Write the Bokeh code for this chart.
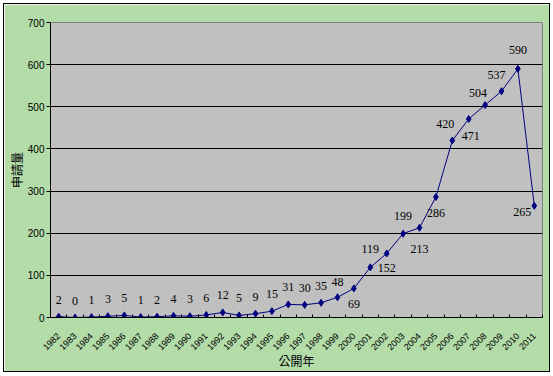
import math
from bokeh.plotting import figure
from bokeh.models import ColumnDataSource, FixedTicker, Range1d, LabelSet
from bokeh.embed import file_html
from bokeh.resources import INLINE

years = [str(y) for y in range(1982, 2012)]
counts = [2, 0, 1, 3, 5, 1, 2, 4, 3, 6, 12, 5, 9, 15, 31, 30, 35, 48, 69,
          119, 152, 199, 213, 286, 420, 471, 504, 537, 590, 265]
y_ticks = [0, 100, 200, 300, 400, 500, 600, 700]
x_title = "公開年"
y_title = "申請量"

# label placement (screen px; dy positive = up)
label_dx = [0] * 24 + [-7, 2, -7, -5, 0, -12]
label_dy = [17] * 17 + [15, -16, 18, -15, 18, -21, -16, 17, -17, 12, 16, 19, -6]

xs = list(range(len(years)))
src = ColumnDataSource(dict(
    x=xs, y=counts, txt=[str(c) for c in counts],
    dx=label_dx, dy=label_dy))

p = figure(width=545, height=367, output_backend="svg", toolbar_location=None,
           x_range=Range1d(-0.5, len(years) - 0.5), y_range=Range1d(0, 700),
           min_border_left=46, min_border_right=7, min_border_top=18,
           min_border_bottom=53)
p.margin = (4, 0, 0, 4)
p.styles = {"outline": "1px solid black"}
p.border_fill_color = "#B3DCA9"
p.background_fill_color = "#C0C0C0"
p.outline_line_color = "#808080"

p.line("x", "y", source=src, line_color="#000080", line_width=1)
p.scatter("x", "y", source=src, marker="diamond", size=7,
          fill_color="#000080", line_color="#000080")
labels = LabelSet(x="x", y="y", text="txt", source=src,
                  x_offset="dx", y_offset="dy",
                  text_align="center", text_baseline="middle",
                  text_font="Liberation Serif", text_font_size="12px",
                  text_color="black")
p.add_layout(labels)

# x axis
xa = p.xaxis[0]
xa.ticker = FixedTicker(ticks=xs, minor_ticks=[i - 0.5 for i in range(len(years) + 1)])
xa.major_label_overrides = {i: y for i, y in enumerate(years)}
xa.major_label_orientation = math.pi / 4
xa.major_tick_line_color = None
xa.minor_tick_in = 3
xa.minor_tick_out = 0
xa.minor_tick_line_color = "black"
xa.axis_line_color = "black"
xa.major_label_text_font = "Liberation Sans"
xa.major_label_text_font_size = "9px"
xa.major_label_text_color = "black"
xa.major_label_standoff = 11
xa.axis_label = x_title
xa.axis_label_text_font = "Noto Sans CJK TC"
xa.axis_label_text_font_size = "12px"
xa.axis_label_text_font_style = "normal"
xa.axis_label_text_color = "black"
xa.axis_label_standoff = -4

# y axis
ya = p.yaxis[0]
ya.ticker = FixedTicker(ticks=y_ticks)
ya.minor_tick_line_color = None
ya.major_tick_in = 0
ya.major_tick_out = 4
ya.major_tick_line_color = "black"
ya.axis_line_color = "black"
ya.major_label_text_font = "Liberation Sans"
ya.major_label_text_font_size = "10px"
ya.major_label_text_color = "black"
ya.major_label_standoff = 2
ya.axis_label = y_title
ya.axis_label_text_font = "Noto Sans CJK TC"
ya.axis_label_text_font_size = "12px"
ya.axis_label_text_font_style = "normal"
ya.axis_label_text_color = "black"
ya.axis_label_standoff = 0

p.xgrid.grid_line_color = None
p.ygrid.grid_line_color = "black"
p.ygrid.grid_line_width = 1

open("out.html", "w").write(file_html(p, INLINE))
